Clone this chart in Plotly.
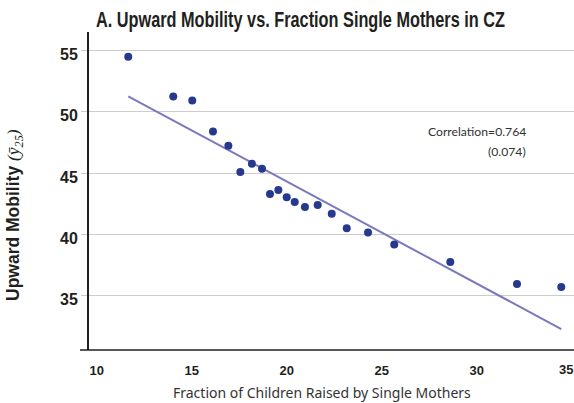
import plotly.graph_objects as go

# Binned scatter data
frac_single_mothers = [11.66, 14.03, 15.03, 16.12, 16.93, 17.56, 18.17, 18.70, 19.12, 19.56, 20.00,
                       20.42, 20.96, 21.63, 22.37, 23.16, 24.28, 25.66, 28.61, 32.12, 34.45]
upward_mobility = [54.50, 51.26, 50.94, 48.40, 47.23, 45.10, 45.76, 45.35, 43.30, 43.63, 43.03,
                   42.65, 42.24, 42.40, 41.69, 40.49, 40.14, 39.16, 37.74, 35.94, 35.70]
fit_x = [11.66, 34.45]
fit_y = [51.28, 32.26]
x_ticks = [10, 15, 20, 25, 30, 35]
y_ticks = [35, 40, 45, 50, 55]

W, H = 574, 403
L, R, T, B = 89, 0, 32, 53
PW, PH = W - L - R, H - T - B

def px_x(px):
    return (px - L) / PW

def px_y(py):
    return (H - B - py) / PH

bold_font = "Liberation Sans, Arial, sans-serif"
regular = "Noto Sans, Open Sans, sans-serif"
ink = "#231f20"

fig = go.Figure()
fig.add_trace(go.Scatter(x=fit_x, y=fit_y, mode="lines",
                         line=dict(color="#7b79bd", width=2), hoverinfo="skip"))
fig.add_trace(go.Scatter(x=frac_single_mothers, y=upward_mobility, mode="markers",
                         marker=dict(color="#27398f", size=8, line=dict(width=0))))

fig.update_layout(
    width=W, height=H,
    margin=dict(l=L, r=R, t=T, b=B),
    paper_bgcolor="white", plot_bgcolor="white",
    showlegend=False,
    title=dict(text="A. Upward Mobility vs. Fraction Single Mothers in CZ",
               x=96 / W, xanchor="left", xref="container",
               y=1 - 19.5 / H, yanchor="middle",
               font=dict(family=bold_font, size=22, color=ink, weight="bold")),
    xaxis=dict(range=[9.595, 35.12], tickvals=x_ticks[:-1],
               ticktext=[str(v) for v in x_ticks[:-1]],
               showgrid=False, zeroline=False, showline=False, ticks="",
               tickfont=dict(family=bold_font, size=13, color=ink, weight="bold"),
               ticklabelstandoff=11),
    yaxis=dict(range=[30.55, 56.53], tickvals=y_ticks, showticklabels=False,
               showgrid=True, gridcolor="#cccccc", gridwidth=1, zeroline=False,
               showline=True, linecolor=ink, linewidth=1.5,
               ticks="outside", ticklen=6, tickcolor="#cccccc", tickwidth=1),
)

# last x tick label sits against the right edge of the figure (as in the reference)
fig.add_annotation(text=str(x_ticks[-1]), xref="x", yref="paper", x=x_ticks[-1], y=px_y(369.5),
                   xanchor="right", yanchor="middle", xshift=3, showarrow=False,
                   font=dict(family=bold_font, size=13, color=ink, weight="bold"))

# y tick labels sit a little below their gridlines in the reference
for v in y_ticks:
    fig.add_annotation(text=str(v), xref="paper", yref="y", x=px_x(80), y=v,
                       xanchor="right", yanchor="middle", yshift=-4, showarrow=False,
                       font=dict(family=bold_font, size=16, color=ink, weight="bold"))

# x axis baseline (extends slightly left of the y axis)
fig.add_shape(type="line", xref="paper", yref="paper", x0=px_x(80), x1=1, y0=0, y1=0,
              line=dict(color=ink, width=1.5))

fig.add_annotation(text="Fraction of Children Raised by Single Mothers",
                   xref="paper", yref="paper", x=px_x(322), y=px_y(392),
                   xanchor="center", yanchor="middle", showarrow=False,
                   font=dict(family=regular, size=14, color="#333333"))
fig.add_annotation(text="<b>Upward Mobility</b> <span style='font-family:Liberation Serif'><i>(ȳ<sub>25</sub>)</i></span>",
                   xref="paper", yref="paper", x=px_x(14), y=px_y(215),
                   xanchor="center", yanchor="middle", textangle=-90, showarrow=False,
                   font=dict(family=bold_font, size=17.5, color=ink))
fig.add_annotation(text="Correlation=0.764", xref="paper", yref="paper",
                   x=px_x(528), y=px_y(131), xanchor="right", yanchor="middle",
                   showarrow=False, font=dict(family="Lato, Noto Sans, sans-serif", size=12.2, color="#333333"))
fig.add_annotation(text="(0.074)", xref="paper", yref="paper",
                   x=px_x(528), y=px_y(151), xanchor="right", yanchor="middle",
                   showarrow=False, font=dict(family="Lato, Noto Sans, sans-serif", size=12.2, color="#333333"))

post = """
document.body.style.margin = '0';
var t = document.querySelector('.gtitle');
if (t) { t.setAttribute('textLength', '409'); t.setAttribute('lengthAdjust', 'spacingAndGlyphs'); }
"""
fig.write_html("out.html", post_script=post, config={"displayModeBar": False})
